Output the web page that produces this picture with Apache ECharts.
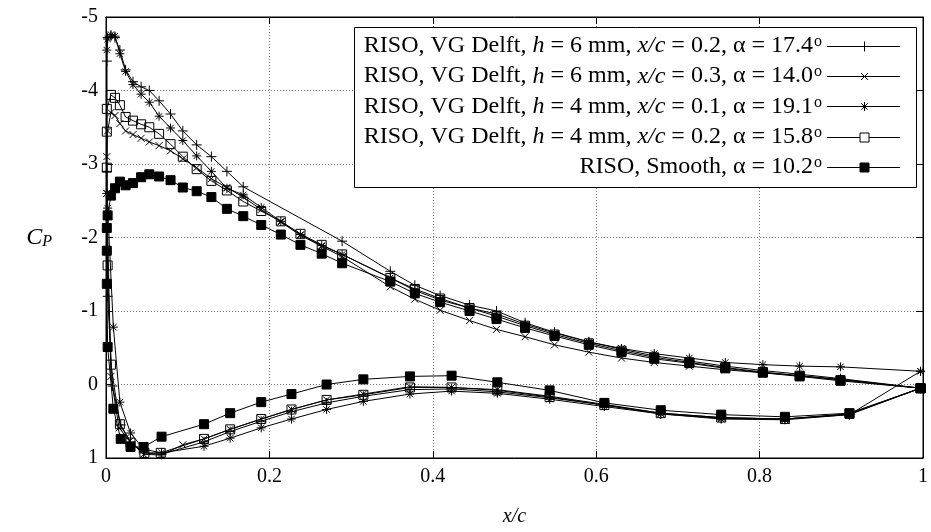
<!DOCTYPE html>
<html>
<head>
<meta charset="utf-8">
<script src="https://cdn.jsdelivr.net/npm/echarts@6/dist/echarts.min.js"></script>
<style>html,body{margin:0;padding:0;background:#fff}#c{width:931px;height:532px}</style>
</head>
<body>
<div id="c"></div>
<script>
// ---- data (x/c, Cp) ----
const xTicks = [0, 0.2, 0.4, 0.6, 0.8, 1];
const yTicks = [-5, -4, -3, -2, -1, 0, 1];

const legendLabels = [
  '{n|RISO, VG Delft, }{i|h}{n| = 6 mm, }{i|x/c}{n| = 0.2, α = 17.4}{s|o}',
  '{n|RISO, VG Delft, }{i|h}{n| = 6 mm, }{i|x/c}{n| = 0.3, α = 14.0}{s|o}',
  '{n|RISO, VG Delft, }{i|h}{n| = 4 mm, }{i|x/c}{n| = 0.1, α = 19.1}{s|o}',
  '{n|RISO, VG Delft, }{i|h}{n| = 4 mm, }{i|x/c}{n| = 0.2, α = 15.8}{s|o}',
  '{n|RISO, Smooth, α = 10.2}{s|o}'
];

const vg6a = [[0.997,0.05],[0.899,-0.08],[0.849,-0.14],[0.804,-0.19],[0.758,-0.25],[0.714,-0.32],[0.671,-0.39],[0.631,-0.48],[0.591,-0.58],[0.549,-0.71],[0.513,-0.84],[0.478,-1.00],[0.445,-1.08],[0.409,-1.21],[0.378,-1.35],[0.348,-1.54],[0.289,-1.95],[0.168,-2.69],[0.148,-2.90],[0.129,-3.10],[0.111,-3.26],[0.094,-3.45],[0.079,-3.68],[0.065,-3.86],[0.053,-4.00],[0.043,-4.05],[0.033,-4.12],[0.024,-4.28],[0.017,-4.55],[0.011,-4.72],[0.006,-4.74],[0.002,-4.72],[0.001,-4.40],[0.001,-2.90],[0.002,-1.20],[0.008,0.02],[0.018,0.55],[0.030,0.78],[0.046,0.93],[0.068,0.95],[0.120,0.78],[0.152,0.64],[0.190,0.50],[0.227,0.37],[0.270,0.25],[0.315,0.16],[0.372,0.07],[0.423,0.06],[0.479,0.10],[0.543,0.18],[0.610,0.28],[0.679,0.40],[0.753,0.46],[0.831,0.47],[0.910,0.41],[0.997,0.05]];

const vg6b = [[0.997,0.05],[0.899,-0.07],[0.849,-0.12],[0.804,-0.16],[0.758,-0.20],[0.714,-0.25],[0.671,-0.30],[0.631,-0.36],[0.591,-0.44],[0.549,-0.54],[0.513,-0.65],[0.478,-0.75],[0.445,-0.87],[0.409,-1.01],[0.378,-1.16],[0.348,-1.33],[0.289,-1.74],[0.264,-1.88],[0.238,-2.03],[0.214,-2.21],[0.190,-2.38],[0.168,-2.55],[0.148,-2.68],[0.129,-2.80],[0.111,-2.95],[0.094,-3.07],[0.079,-3.18],[0.065,-3.25],[0.053,-3.30],[0.043,-3.35],[0.033,-3.40],[0.024,-3.45],[0.017,-3.55],[0.011,-3.66],[0.006,-3.70],[0.002,-3.45],[0.001,-3.10],[0.001,-2.60],[0.006,-0.11],[0.016,0.59],[0.029,0.77],[0.046,0.95],[0.068,0.96],[0.094,0.82],[0.120,0.74],[0.152,0.61],[0.190,0.47],[0.227,0.34],[0.270,0.21],[0.315,0.13],[0.372,0.03],[0.423,0.04],[0.479,0.07],[0.543,0.16],[0.610,0.27],[0.679,0.39],[0.753,0.45],[0.831,0.47],[0.910,0.40],[0.997,0.05]];

const vg4a = [[0.997,-0.18],[0.899,-0.24],[0.849,-0.25],[0.804,-0.27],[0.758,-0.30],[0.714,-0.36],[0.671,-0.42],[0.631,-0.49],[0.591,-0.58],[0.549,-0.70],[0.513,-0.82],[0.478,-0.96],[0.445,-1.04],[0.409,-1.15],[0.378,-1.28],[0.348,-1.45],[0.289,-1.77],[0.264,-1.89],[0.238,-2.04],[0.214,-2.22],[0.190,-2.41],[0.168,-2.58],[0.148,-2.67],[0.129,-2.90],[0.111,-3.11],[0.094,-3.32],[0.079,-3.49],[0.065,-3.65],[0.053,-3.84],[0.043,-3.95],[0.033,-4.08],[0.024,-4.26],[0.017,-4.50],[0.011,-4.74],[0.006,-4.76],[0.002,-4.70],[0.001,-4.55],[0.001,-2.60],[0.002,-2.40],[0.009,-0.78],[0.017,0.24],[0.030,0.66],[0.046,0.88],[0.068,0.93],[0.120,0.84],[0.152,0.73],[0.190,0.59],[0.227,0.47],[0.270,0.34],[0.315,0.23],[0.372,0.13],[0.423,0.09],[0.479,0.12],[0.543,0.20],[0.610,0.30],[0.679,0.40],[0.753,0.47],[0.831,0.48],[0.910,0.41],[0.997,-0.18]];

const vg4b = [[0.997,0.05],[0.899,-0.06],[0.849,-0.12],[0.804,-0.17],[0.758,-0.23],[0.714,-0.30],[0.671,-0.37],[0.631,-0.46],[0.591,-0.56],[0.549,-0.68],[0.513,-0.80],[0.478,-0.93],[0.445,-1.04],[0.409,-1.17],[0.378,-1.30],[0.348,-1.45],[0.289,-1.77],[0.264,-1.90],[0.238,-2.05],[0.214,-2.22],[0.190,-2.36],[0.168,-2.49],[0.148,-2.64],[0.129,-2.77],[0.111,-2.93],[0.094,-3.10],[0.079,-3.27],[0.065,-3.41],[0.053,-3.50],[0.043,-3.54],[0.033,-3.59],[0.024,-3.64],[0.017,-3.80],[0.011,-3.90],[0.006,-3.94],[0.001,-3.75],[0.001,-3.44],[0.001,-2.95],[0.002,-1.62],[0.006,-0.27],[0.017,0.54],[0.030,0.79],[0.047,0.93],[0.067,0.93],[0.120,0.74],[0.152,0.61],[0.190,0.47],[0.227,0.34],[0.270,0.21],[0.315,0.14],[0.372,0.04],[0.423,0.04],[0.479,0.08],[0.543,0.17],[0.610,0.28],[0.679,0.39],[0.753,0.45],[0.831,0.47],[0.910,0.40],[0.997,0.05]];

const smooth = [[0.997,0.05],[0.899,-0.05],[0.849,-0.11],[0.804,-0.16],[0.758,-0.22],[0.714,-0.29],[0.671,-0.35],[0.631,-0.44],[0.591,-0.54],[0.549,-0.66],[0.513,-0.77],[0.478,-0.89],[0.445,-1.00],[0.409,-1.12],[0.378,-1.24],[0.348,-1.40],[0.289,-1.65],[0.264,-1.78],[0.238,-1.90],[0.214,-2.04],[0.190,-2.17],[0.168,-2.29],[0.148,-2.39],[0.129,-2.55],[0.111,-2.63],[0.094,-2.68],[0.079,-2.78],[0.065,-2.83],[0.053,-2.86],[0.043,-2.82],[0.033,-2.74],[0.024,-2.71],[0.017,-2.76],[0.011,-2.67],[0.006,-2.57],[0.002,-2.30],[0.001,-2.13],[0.001,-1.82],[0.001,-1.37],[0.002,-0.51],[0.009,0.33],[0.018,0.74],[0.030,0.85],[0.046,0.85],[0.068,0.71],[0.120,0.54],[0.152,0.39],[0.190,0.24],[0.227,0.13],[0.270,0.00],[0.315,-0.07],[0.372,-0.11],[0.423,-0.12],[0.479,-0.03],[0.543,0.08],[0.610,0.25],[0.679,0.35],[0.753,0.41],[0.831,0.44],[0.910,0.39],[0.997,0.05]];

// ---- styling ----
const FONT = '"Liberation Serif", "Times New Roman", serif';
const SYM_PLUS = 'path://M0,5L10,5M5,0L5,10';
const SYM_CROSS = 'path://M0,0L10,10M10,0L0,10';
const SYM_STAR = 'path://M0,5L10,5M5,0L5,10M1.5,1.5L8.5,8.5M8.5,1.5L1.5,8.5';

const seriesDefs = [
  {data: vg6a, symbol: SYM_PLUS, size: 10, fill: 'rgba(0,0,0,0)'},
  {data: vg6b, symbol: SYM_CROSS, size: 7, fill: 'rgba(0,0,0,0)'},
  {data: vg4a, symbol: SYM_STAR, size: 9, fill: 'rgba(0,0,0,0)'},
  {data: vg4b, symbol: 'rect', size: 9, fill: 'rgba(0,0,0,0)'},
  {data: smooth, symbol: 'rect', size: 9, fill: '#000'}
];

const chart = echarts.init(document.getElementById('c'), null, {renderer: 'canvas'});

const gridLine = {show: true, lineStyle: {color: '#777', width: 1, type: [1, 2]}};
const axisBase = {
  type: 'value',
  axisLine: {show: true, onZero: false, lineStyle: {color: '#000', width: 1}},
  axisTick: {show: true, inside: true, length: 7, lineStyle: {color: '#000'}},
};

// legend drawn as graphic elements
const legendX = 354, legendY = 27, legendW = 562, legendH = 160;
const rowY0 = 46, rowDy = 30.2;
const textRight = 822, sampleL = 827, sampleR = 900, markX = 864;
const graphics = [{
  type: 'rect', z: 100,
  shape: {x: legendX + 0.5, y: legendY + 0.5, width: legendW, height: legendH},
  style: {fill: '#fff', stroke: '#000', lineWidth: 1}
}];
const rich = {
  n: {fontFamily: FONT, fontSize: 24, fill: '#000'},
  i: {fontFamily: FONT, fontSize: 24, fontStyle: 'italic', fill: '#000'},
  s: {fontFamily: FONT, fontSize: 16, fill: '#000', verticalAlign: 'top', padding: [0, 0, 6, 1]}
};
legendLabels.forEach((lab, k) => {
  const y = rowY0 + k * rowDy;
  graphics.push({
    type: 'text', z: 101, x: textRight, y: y,
    style: {text: lab, rich: rich, align: 'right', verticalAlign: 'middle', fontFamily: FONT, fontSize: 24, fill: '#000'}
  });
  graphics.push({
    type: 'line', z: 101,
    shape: {x1: sampleL, y1: Math.round(y) + 0.5, x2: sampleR, y2: Math.round(y) + 0.5},
    style: {stroke: '#000', lineWidth: 1}
  });
  const cy = Math.round(y) + 0.5, cx = markX + 0.5;
  if (k === 0) {
    graphics.push({type: 'line', z: 102, shape: {x1: cx - 5, y1: cy, x2: cx + 5, y2: cy}, style: {stroke: '#000', lineWidth: 1}});
    graphics.push({type: 'line', z: 102, shape: {x1: cx, y1: cy - 5, x2: cx, y2: cy + 5}, style: {stroke: '#000', lineWidth: 1}});
  } else if (k === 1) {
    graphics.push({type: 'line', z: 102, shape: {x1: cx - 3.5, y1: cy - 3.5, x2: cx + 3.5, y2: cy + 3.5}, style: {stroke: '#000', lineWidth: 1}});
    graphics.push({type: 'line', z: 102, shape: {x1: cx + 3.5, y1: cy - 3.5, x2: cx - 3.5, y2: cy + 3.5}, style: {stroke: '#000', lineWidth: 1}});
  } else if (k === 2) {
    [[-4.5,0,4.5,0],[0,-4.5,0,4.5],[-3.2,-3.2,3.2,3.2],[3.2,-3.2,-3.2,3.2]].forEach(s => {
      graphics.push({type: 'line', z: 102, shape: {x1: cx + s[0], y1: cy + s[1], x2: cx + s[2], y2: cy + s[3]}, style: {stroke: '#000', lineWidth: 1}});
    });
  } else {
    graphics.push({type: 'rect', z: 102, shape: {x: cx - 4.5, y: cy - 4.5, width: 9, height: 9},
      style: {fill: k === 4 ? '#000' : '#fff', stroke: '#000', lineWidth: 1}});
  }
});

const option = {
  animation: false,
  backgroundColor: '#fff',
  grid: {left: 106, right: 2, top: 17, bottom: 70, show: true, borderColor: '#000', borderWidth: 1, containLabel: false},
  xAxis: [
    Object.assign({}, axisBase, {
      position: 'bottom', min: xTicks[0], max: xTicks[xTicks.length - 1], interval: 0.2,
      splitLine: gridLine,
      axisLabel: {color: '#000', fontFamily: FONT, fontSize: 20, margin: 9,
        formatter: v => String(+v.toFixed(1))},
      name: 'x/c', nameLocation: 'middle', nameGap: 49,
      nameTextStyle: {fontFamily: FONT, fontSize: 20, fontStyle: 'italic', color: '#000'}
    }),
    Object.assign({}, axisBase, {
      position: 'top', min: 0, max: 1, interval: 0.2,
      splitLine: {show: false}, axisLabel: {show: false}
    })
  ],
  yAxis: [
    Object.assign({}, axisBase, {
      position: 'left', inverse: true, min: yTicks[0], max: yTicks[yTicks.length - 1], interval: 1,
      splitLine: gridLine,
      axisLabel: {color: '#000', fontFamily: FONT, fontSize: 20, margin: 8},
      name: '{c|C}{p|P}', nameLocation: 'middle', nameGap: 54, nameRotate: 0,
      nameTextStyle: {
        rich: {
          c: {fontFamily: FONT, fontSize: 24, fontStyle: 'italic', color: '#000'},
          p: {fontFamily: FONT, fontSize: 16, fontStyle: 'italic', color: '#000', verticalAlign: 'bottom', padding: [8, 0, 0, 0]}
        }
      }
    }),
    Object.assign({}, axisBase, {
      position: 'right', inverse: true, min: -5, max: 1, interval: 1,
      splitLine: {show: false}, axisLabel: {show: false}
    })
  ],
  series: seriesDefs.map((d, k) => ({
    type: 'line',
    name: 's' + k,
    xAxisIndex: 0, yAxisIndex: 0,
    data: d.data,
    symbol: d.symbol,
    symbolSize: d.size,
    showAllSymbol: true,
    z: 2 + k,
    lineStyle: {color: '#000', width: 1},
    itemStyle: {color: d.fill, borderColor: '#000', borderWidth: 1},
    emphasis: {disabled: true}
  })),
  graphic: graphics
};
chart.setOption(option);
</script>
</body>
</html>
